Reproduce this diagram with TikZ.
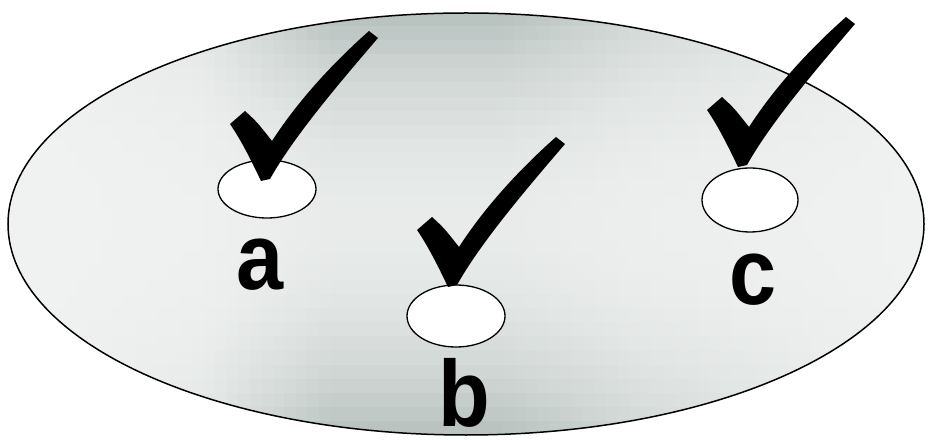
\documentclass[tikz,border=0pt]{standalone}
\usepackage{fontspec}
\setmainfont{Liberation Sans}
\usetikzlibrary{shapes.geometric}
\tikzset{
  bigell/.style={draw=black, line width=1.5pt, ellipse, inner sep=0pt, minimum width=916pt, minimum height=422pt},
  smallell/.style={draw=black, fill=white, line width=1.3pt, ellipse, inner sep=0pt},
  lbl/.style={inner sep=0pt, font=\bfseries\fontsize{94}{94}\selectfont},
  tick/.pic={\fill[black] (-33,54) -- (-18,67) .. controls (-6,56) .. (9,37)
      .. controls (40,85) and (80,124) .. (106,147) -- (115,140)
      .. controls (72,90) and (30,40) .. (7,-1) -- (-2,-3)
      .. controls (-12,18) and (-22,38) .. cycle;}
}
\begin{document}
\begin{tikzpicture}[x=1pt,y=1pt]
\useasboundingbox (0,0) rectangle (933,439);
\begin{scope}
  \clip (466,215) ellipse [x radius=458pt, y radius=211pt];
  \foreach \i in {0,...,79}{
    \pgfmathsetmacro\xa{8+\i*11.5}
    \pgfmathsetmacro\xm{\xa+5.75}
    \pgfmathsetmacro\w{\xm<200 ? 0.25*(\xm-8)/192 : (\xm<330 ? 0.25+(\xm-200)/130*0.75 : (\xm<500 ? 1 : (\xm<640 ? 1-(\xm-500)/140*0.45 : 0.55-(\xm-640)/285*0.5)))}
    \foreach \j in {0,...,29}{
      \pgfmathsetmacro\ya{4+\j*14.1}
      \pgfmathsetmacro\f{abs(\ya+7-215)/211}
      \pgfmathsetmacro\s{\w*(0.15+0.85*\f*\f)}
      \pgfmathtruncatemacro\rr{241-58*\s}
      \pgfmathtruncatemacro\gg{243-50*\s}
      \pgfmathtruncatemacro\bb{242-52*\s}
      \definecolor{cellc}{RGB}{\rr,\gg,\bb}
      \fill[cellc] (\xa,\ya) rectangle (\xa+12,\ya+14.6);
    }
  }
\end{scope}
\node[bigell] (big) at (466,215) {};
\node[smallell, minimum width=98pt, minimum height=58pt] (ea) at (267,250) {};
\node[smallell, minimum width=98pt, minimum height=62pt] (eb) at (456,123) {};
\node[smallell, minimum width=96pt, minimum height=64pt] (ec) at (750,239) {};
\node[lbl] (la) at (260,174) {\scalebox{0.9}[1]{a}};
\node[lbl] (lb) at (464,46) {\scalebox{0.9}[1]{b}};
\node[lbl] (lc) at (753,159) {\scalebox{0.9}[1]{c}};
\pic at (263,261) {tick};
\pic at (450,155) {tick};
\pic at (740,275) {tick};
\end{tikzpicture}
\end{document}
